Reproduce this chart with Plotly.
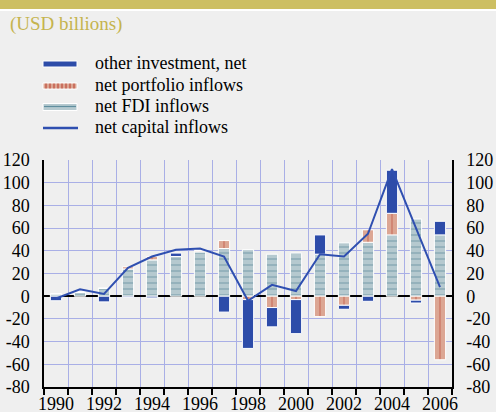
import plotly.graph_objects as go

years = list(range(1990, 2007))
fdi = [2, 3.5, 7, 24, 32, 35, 39, 42, 41, 37, 38, 37, 47, 47.5, 54, 68, 54]
portfolio = [0, 0, 0, 2, 3, 0, 1, 7, -3, -10, -3, -18, -8, 11, 19, -3.5, -56]
other = [-4, 0, -5, -1, -1.5, 3, 0, -14, -43, -17, -30, 17, -3.5, -4.5, 38, -2.5, 12]
net = [-2, 6, 2, 25, 35, 41, 42, 35, -4, 10, 4.5, 37, 35, 55, 112, 60, 8]

series_names = ["other investment, net", "net portfolio inflows",
                "net FDI inflows", "net capital inflows"]

ytick_vals = [-80, -60, -40, -20, 0, 20, 40, 60, 80, 100, 120]
ytick_text = ["-80", "-60", "-40", "-20", "0", "20", "40", "60", "80", "100", "120"]
xtick_vals = [1990, 1992, 1994, 1996, 1998, 2000, 2002, 2004, 2006]
xtick_text = [str(v) for v in xtick_vals]

W, H = 496, 412
L, R, T, B = 44, 44, 160, 25
ph = H - T - B
pw = W - L - R

def py(px):
    return 1 + (T - px) / ph

def px_x(px):
    return (px - L) / pw

SERIF = "Liberation Serif"
BG = "#efefef"
GRID = "#a9afe6"
TXT = "#000000"
C_OTHER = "#2d4ca9"
C_PORT = "#dca693"
C_PORT_LINE = "#b73a2a"
C_FDI = "#b5c9cf"
C_FDI_LINE = "#5f8e9e"
C_NET = "#2f4fb0"
BW = 0.47

fig = go.Figure()
fig.add_trace(go.Bar(
    x=years, y=fdi, name=series_names[2], width=BW,
    marker=dict(color=C_FDI, line=dict(color="white", width=1),
                pattern=dict(shape="-", fgcolor=C_FDI_LINE, bgcolor=C_FDI,
                             size=6, solidity=0.25)),
))
fig.add_trace(go.Bar(
    x=years, y=portfolio, name=series_names[1], width=BW,
    marker=dict(color=C_PORT, line=dict(color="white", width=1),
                pattern=dict(shape="|", fgcolor=C_PORT_LINE, bgcolor=C_PORT,
                             size=8, solidity=0.15)),
))
fig.add_trace(go.Bar(
    x=years, y=other, name=series_names[0], width=BW,
    marker=dict(color=C_OTHER, line=dict(color="white", width=1)),
))
fig.add_trace(go.Scatter(
    x=years, y=net, name=series_names[3],
    mode="lines", line=dict(color=C_NET, width=2),
))
# invisible trace for right axis
fig.add_trace(go.Scatter(x=[years[0]], y=[0], yaxis="y2", showlegend=False,
                         mode="markers", marker=dict(opacity=0), hoverinfo="skip"))

# --- custom legend (flat symbols like the reference) ---
shapes = [
    dict(type="rect", xref="paper", yref="paper", x0=px_x(0), x1=px_x(W),
         y0=py(9), y1=py(0), fillcolor="#cdbf62", line=dict(width=0), layer="below"),
    dict(type="rect", xref="paper", yref="paper", x0=px_x(0), x1=px_x(W),
         y0=py(11), y1=py(9), fillcolor="white", line=dict(width=0), layer="below"),
]
annotations = [
    dict(text="(USD billions)", xref="paper", yref="paper", x=px_x(8), y=py(24),
         xanchor="left", yanchor="middle", showarrow=False,
         font=dict(family=SERIF, size=19, color="#c5b44e")),
]
leg_y = [64, 86, 107, 128]
sx0, sx1, tx = 43, 77, 93
# other investment: solid blue
shapes.append(dict(type="rect", xref="paper", yref="paper", x0=px_x(sx0), x1=px_x(sx1),
                   y0=py(leg_y[0] + 3), y1=py(leg_y[0] - 3), fillcolor=C_OTHER,
                   line=dict(color="white", width=1)))
# portfolio: salmon with red stripes
shapes.append(dict(type="rect", xref="paper", yref="paper", x0=px_x(sx0), x1=px_x(sx1),
                   y0=py(leg_y[1] + 3), y1=py(leg_y[1] - 3), fillcolor=C_PORT,
                   line=dict(color="white", width=1)))
sx = sx0 + 3
while sx < sx1 - 1:
    shapes.append(dict(type="line", xref="paper", yref="paper", x0=px_x(sx), x1=px_x(sx),
                       y0=py(leg_y[1] + 2.5), y1=py(leg_y[1] - 2.5),
                       line=dict(color=C_PORT_LINE, width=1)))
    sx += 4
# FDI: light with teal horizontal line
shapes.append(dict(type="rect", xref="paper", yref="paper", x0=px_x(sx0), x1=px_x(sx1),
                   y0=py(leg_y[2] + 3.5), y1=py(leg_y[2] - 3.5), fillcolor=C_FDI,
                   line=dict(color="white", width=1)))
shapes.append(dict(type="line", xref="paper", yref="paper", x0=px_x(sx0 + 1), x1=px_x(sx1 - 1),
                   y0=py(leg_y[2] - 0.5), y1=py(leg_y[2] - 0.5),
                   line=dict(color=C_FDI_LINE, width=1.2)))
# net capital: line
shapes.append(dict(type="line", xref="paper", yref="paper", x0=px_x(sx0), x1=px_x(sx1 + 1),
                   y0=py(leg_y[3]), y1=py(leg_y[3]), line=dict(color=C_NET, width=2.5)))
for name, yy in zip(series_names, leg_y):
    annotations.append(dict(text=name, xref="paper", yref="paper", x=px_x(tx), y=py(yy - 1),
                            xanchor="left", yanchor="middle", showarrow=False,
                            font=dict(family=SERIF, size=18, color=TXT)))

fig.update_layout(
    width=W, height=H,
    margin=dict(l=L, r=R, t=T, b=B, autoexpand=False),
    paper_bgcolor=BG, plot_bgcolor=BG,
    barmode="relative",
    font=dict(family=SERIF, size=18, color=TXT),
    showlegend=False,
    xaxis=dict(range=[1989.5, 2006.5], tickvals=xtick_vals, ticktext=xtick_text,
               showgrid=False, ticks="", showline=True, linecolor="black", linewidth=1.5,
               zeroline=False, tickfont=dict(family=SERIF, size=18, color=TXT),
               minor=dict(tick0=1989.5, dtick=1, showgrid=True, gridcolor=GRID,
                          gridwidth=1, ticks="outside", ticklen=6, tickcolor="black",
                          tickwidth=1.5)),
    yaxis=dict(range=[-80, 120], tickvals=ytick_vals, ticktext=ytick_text,
               showgrid=True, gridcolor=GRID, gridwidth=1,
               zeroline=True, zerolinecolor="black", zerolinewidth=2,
               showline=True, linecolor="black", linewidth=1.5, ticks="",
               ticklabelstandoff=9,
               tickfont=dict(family=SERIF, size=18, color=TXT)),
    yaxis2=dict(range=[-80, 120], tickvals=ytick_vals, ticktext=ytick_text,
                overlaying="y", side="right", showgrid=False, zeroline=False,
                showline=True, linecolor="black", linewidth=1.5, ticks="",
                ticklabelstandoff=9,
                tickfont=dict(family=SERIF, size=18, color=TXT)),
    shapes=shapes,
    annotations=annotations,
)

fig.write_html("out.html", config={"displayModeBar": False},
               post_script="document.body.style.margin='0px';")
